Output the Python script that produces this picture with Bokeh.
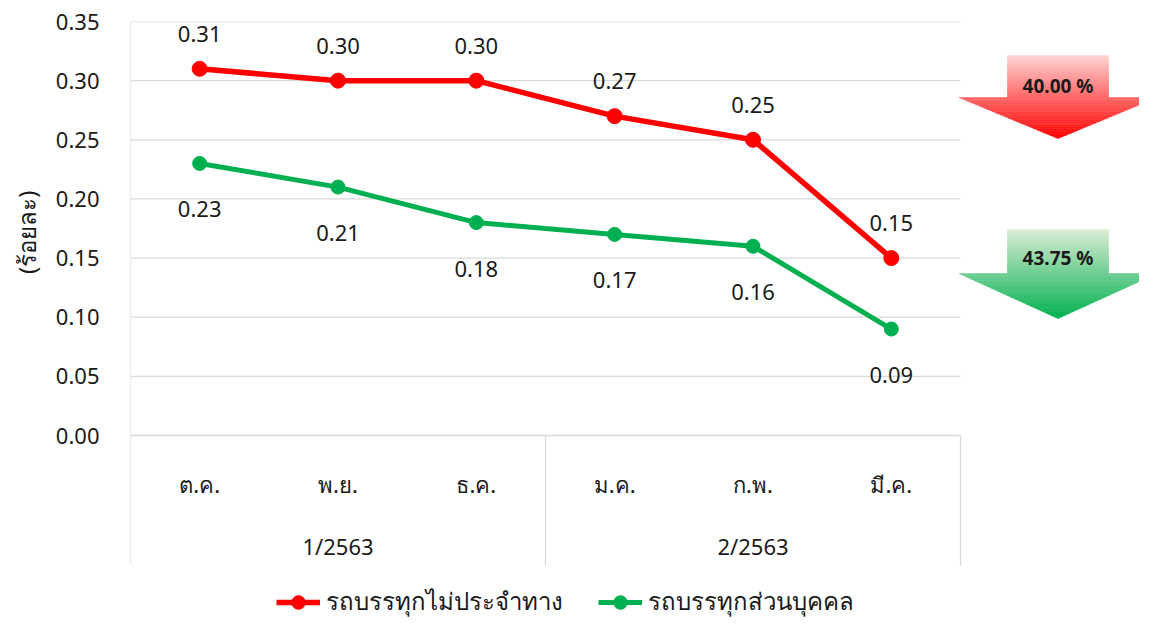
from bokeh.plotting import figure
from bokeh.models import Range1d, FixedTicker, Legend, LegendItem, PrintfTickFormatter, Title
from bokeh.core.properties import value
from bokeh.embed import file_html
from bokeh.resources import INLINE

# ---------------- data ----------------
months = ["ต.ค.", "พ.ย.", "ธ.ค.", "ม.ค.", "ก.พ.", "มี.ค."]
quarters = ["1/2563", "2/2563"]
quarter_sizes = [3, 3]
red_name = "รถบรรทุกไม่ประจำทาง"
green_name = "รถบรรทุกส่วนบุคคล"
red_vals = [0.31, 0.30, 0.30, 0.27, 0.25, 0.15]
green_vals = [0.23, 0.21, 0.18, 0.17, 0.16, 0.09]
y_ticks = [0.00, 0.05, 0.10, 0.15, 0.20, 0.25, 0.30, 0.35]
y_label = "(ร้อยละ)"

red_change = "%.2f %%" % ((red_vals[-2] - red_vals[-1]) / red_vals[-2] * 100)
green_change = "%.2f %%" % ((green_vals[-2] - green_vals[-1]) / green_vals[-2] * 100)

# ---------------- layout ----------------
FONT = "Noto Sans"
RED = "#ff0000"
GREEN = "#00b050"
GRID = "#d9d9d9"
TXT = "#1a1a1a"

W, H = 1139, 618
frame_left, frame_top = 130, 21
zero_py = 435
px_per_unit_x = 830 / 6.0
px_per_unit_y = (zero_py - frame_top) / 0.35
x0 = -0.5
x1 = x0 + (W - frame_left) / px_per_unit_x
y1 = 0.35
y0 = -(H - zero_py) / px_per_unit_y

p = figure(width=W, height=H, output_backend="svg", toolbar_location=None,
           x_range=Range1d(x0, x1), y_range=Range1d(y0, y1),
           min_border_left=frame_left, min_border_top=frame_top,
           min_border_right=0, min_border_bottom=0)
p.outline_line_color = None
p.xgrid.visible = False
p.ygrid.visible = False
p.xaxis.visible = False

ya = p.yaxis[0]
ya.ticker = FixedTicker(ticks=y_ticks)
ya.formatter = PrintfTickFormatter(format="%.2f")
ya.axis_line_color = None
ya.major_tick_line_color = None
ya.minor_tick_line_color = None
ya.major_tick_out = 0
ya.major_tick_in = 0
ya.major_label_standoff = 31
ya.major_label_text_font = FONT
ya.major_label_text_font_size = "22px"
ya.major_label_text_color = TXT

# y-axis title (outside the axis, anchored at its top end within the value area)
ytitle = Title(text=y_label, align="right", offset=169, vertical_align="top",
               standoff=15)
ytitle.text_font = FONT
ytitle.text_font_size = "24px"
ytitle.text_font_style = "normal"
ytitle.text_color = TXT
p.add_layout(ytitle, "left")

n = len(months)
xs = list(range(n))
last = n - 0.5

# horizontal gridlines
p.segment(x0=[x0] * len(y_ticks), y0=y_ticks, x1=[last] * len(y_ticks), y1=y_ticks,
          line_color=GRID, line_width=1.3)

# vertical separators (left border + quarter boundaries)
y_sep_bottom = -(565 - zero_py) / px_per_unit_y
bounds = [x0]
acc = x0
for s in quarter_sizes:
    acc += s
    bounds.append(acc)
p.segment(x0=[x0], y0=[y1], x1=[x0], y1=[0], line_color=GRID, line_width=1.3)
p.segment(x0=bounds, y0=[0] * len(bounds), x1=bounds, y1=[y_sep_bottom] * len(bounds),
          line_color=GRID, line_width=1.3)

# category labels
p.text(x=xs, y=[-(483 - zero_py) / px_per_unit_y] * n, text=months, text_align="center",
       text_baseline="middle", text_font=value(FONT), text_font_size="22px", text_color=TXT)
q_centers = []
acc = x0
for s in quarter_sizes:
    q_centers.append(acc + s / 2.0)
    acc += s
p.text(x=q_centers, y=[-(545 - zero_py) / px_per_unit_y] * len(quarters), text=quarters,
       text_align="center", text_baseline="middle", text_font=value(FONT),
       text_font_size="22px", text_color=TXT)

# series
rl = p.line(xs, red_vals, line_color=RED, line_width=5.5)
rc = p.scatter(xs, red_vals, size=15, fill_color=RED, line_color=RED)
gl = p.line(xs, green_vals, line_color=GREEN, line_width=5)
gc = p.scatter(xs, green_vals, size=14, fill_color=GREEN, line_color=GREEN)

p.text(x=xs, y=red_vals, text=["%.2f" % v for v in red_vals], y_offset=-35,
       text_align="center", text_baseline="middle", text_font=value(FONT),
       text_font_size="22px", text_color=TXT)
p.text(x=xs, y=green_vals, text=["%.2f" % v for v in green_vals], y_offset=46,
       text_align="center", text_baseline="middle", text_font=value(FONT),
       text_font_size="22px", text_color=TXT)


# gradient arrows
def to_x(px):
    return x0 + (px - frame_left) / px_per_unit_x


def to_y(py):
    return (zero_py - py) / px_per_unit_y


def mix(c1, c2, t):
    return "#%02x%02x%02x" % tuple(int(round(a + (b - a) * t)) for a, b in zip(c1, c2))


def arrow(top_py, neck_py, tip_py, c_top, c_bot, N=48):
    cx = to_x(1057.5)
    bw = (1108 - 1007) / 2.0 / px_per_unit_x
    hw = (1155 - 957) / 2.0 / px_per_unit_x
    yt, yn, yp = to_y(top_py), to_y(neck_py), to_y(tip_py)
    total = yt - yp
    pxs, pys, cols = [], [], []
    nb = max(1, int(N * (yt - yn) / total))
    nh = N - nb
    eps = 0.4 / px_per_unit_y
    for i in range(nb):
        a = yt - (yt - yn) * i / nb
        b = yt - (yt - yn) * (i + 1) / nb - eps
        pxs.append([cx - bw, cx + bw, cx + bw, cx - bw])
        pys.append([a, a, b, b])
        cols.append(mix(c_top, c_bot, ((yt - a) + (a - b) / 2) / total))
    for i in range(nh):
        a = yn - (yn - yp) * i / nh
        b = yn - (yn - yp) * (i + 1) / nh
        wa = hw * (a - yp) / (yn - yp)
        wb = hw * (b - yp) / (yn - yp)
        pxs.append([cx - wa, cx + wa, cx + wb, cx - wb])
        pys.append([a, a, b, b])
        cols.append(mix(c_top, c_bot, ((yt - a) + (a - b) / 2) / total))
    p.patches(pxs, pys, fill_color=cols, line_color=cols, line_width=0.6)


arrow(55, 97, 138, (255, 214, 214), (255, 0, 0))
arrow(229, 273, 318, (221, 237, 214), (0, 176, 80))

p.text(x=[to_x(1057.5)], y=[to_y(85)], text=[red_change], text_align="center",
       text_baseline="middle", text_font=value(FONT), text_font_size="19px",
       text_font_style="bold", text_color=TXT)
p.text(x=[to_x(1057.5)], y=[to_y(257)], text=[green_change], text_align="center",
       text_baseline="middle", text_font=value(FONT), text_font_size="19px",
       text_font_style="bold", text_color=TXT)

# legend
legend = Legend(items=[LegendItem(label=red_name, renderers=[rl, rc]),
                       LegendItem(label=green_name, renderers=[gl, gc])],
                orientation="horizontal", location=(146, -3),
                glyph_width=44, glyph_height=34, label_standoff=6, spacing=35,
                padding=0, margin=0, border_line_color=None, background_fill_alpha=0,
                label_text_font=FONT, label_text_font_size="24px", label_text_color=TXT)
p.add_layout(legend)

open("out.html", "w").write(file_html(p, INLINE))
